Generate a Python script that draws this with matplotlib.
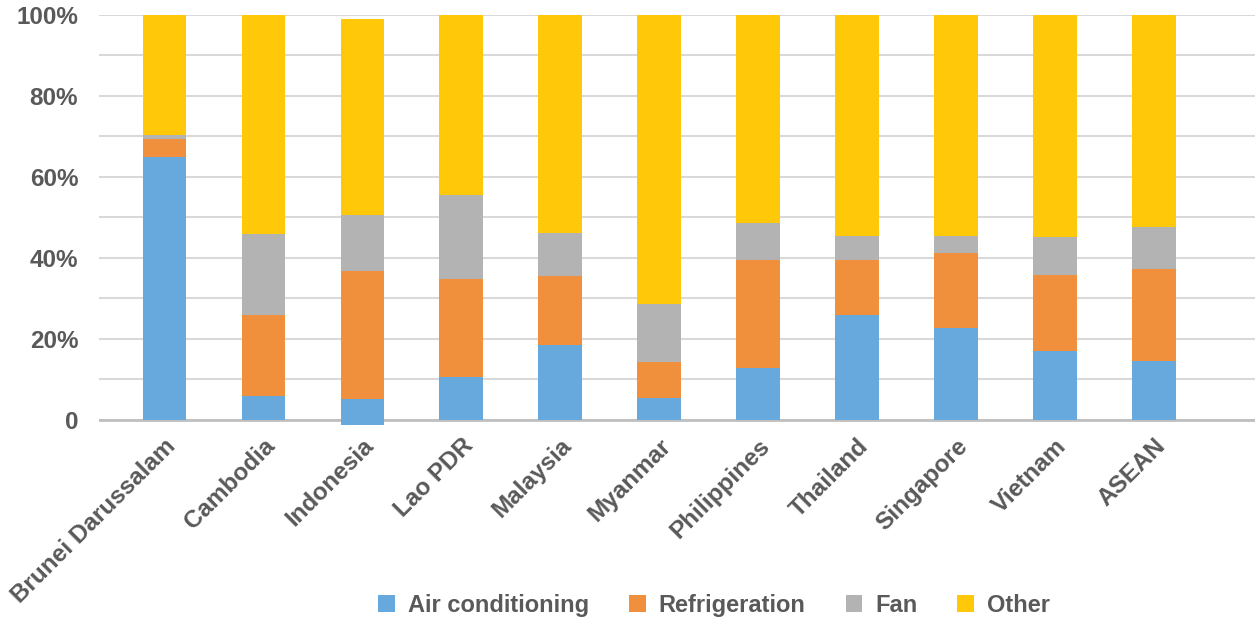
import matplotlib
matplotlib.use("Agg")
import matplotlib.pyplot as plt
import numpy as np

# -------------------------------------------------------------------------------------
# Data: share of electricity end use per country (%)
countries = ["Brunei Darussalam", "Cambodia", "Indonesia", "Lao PDR", "Malaysia", "Myanmar",
             "Philippines", "Thailand", "Singapore", "Vietnam", "ASEAN"]
air_conditioning = [64.9, 5.9, 6.4, 10.5, 18.5, 5.5, 12.8, 25.8, 22.8, 17.0, 14.6]
refrigeration = [4.4, 19.9, 31.7, 24.2, 17.0, 8.7, 26.6, 13.6, 18.4, 18.8, 22.6]
fan = [1.0, 20.0, 13.6, 20.9, 10.7, 14.4, 9.3, 6.0, 4.2, 9.3, 10.4]
other = [29.7, 54.2, 48.5, 44.4, 53.8, 71.4, 51.3, 54.6, 54.6, 54.9, 52.4]
# stack start (Indonesia series starts slightly below zero)
stack_start = [0, 0, -1.2, 0, 0, 0, 0, 0, 0, 0, 0]

series_names = ["Air conditioning", "Refrigeration", "Fan", "Other"]
series_colors = ["#67a9dc", "#f0903c", "#b3b3b3", "#ffc90a"]
y_ticks = list(range(0, 101, 10))
# -------------------------------------------------------------------------------------

plt.rcParams['font.family'] = ['Liberation Sans', 'DejaVu Sans']
text_color = "#595959"

fig = plt.figure(figsize=(12.55, 6.2), dpi=100)
ax = fig.add_axes([0.0789, 0.3129, 0.9211, 0.6629])

x = np.arange(len(countries))
bottom = np.array(stack_start, dtype=float)
for name, values, color in zip(series_names, [air_conditioning, refrigeration, fan, other], series_colors):
    ax.bar(x, values, width=0.44, bottom=bottom, color=color, label=name, zorder=3)
    bottom = bottom + np.array(values)

# axes and grid
ax.set_xlim(-0.66, 11.02)
ax.set_ylim(-1.5, 100)
ax.set_yticks(y_ticks)
ax.set_yticklabels(["0" if v == 0 else ("%d%%" % v if v % 20 == 0 else "") for v in y_ticks],
                   fontsize=17.5, fontweight="bold", color=text_color)
ax.yaxis.grid(True, color="#d9d9d9", linewidth=1.5, zorder=0)
ax.axhline(0, color="#bfbfbf", linewidth=2, zorder=2)
ax.tick_params(axis="y", length=0, pad=15)
ax.tick_params(axis="x", length=0, pad=6)
for spine in ax.spines.values():
    spine.set_visible(False)

ax.set_xticks(x)
ax.set_xticklabels(countries, rotation=45, ha="right", va="top", rotation_mode="anchor",
                   fontsize=17.5, fontweight="bold", color=text_color)

# legend
leg = fig.legend(loc="center", bbox_to_anchor=(0.569, 0.024), ncol=4, frameon=False,
                 handlelength=0.7, handleheight=0.7, handletextpad=0.55, columnspacing=1.7,
                 prop={"size": 17, "weight": "bold"})
for txt in leg.get_texts():
    txt.set_color(text_color)

fig.savefig("out.png", dpi=100)
